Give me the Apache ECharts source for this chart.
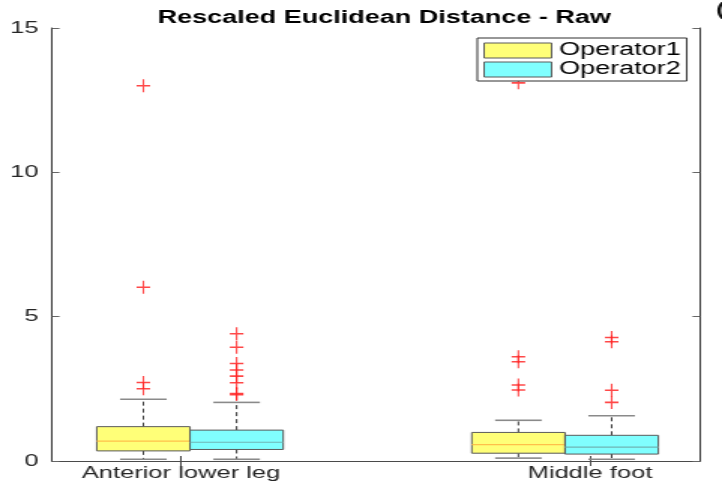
<!DOCTYPE html>
<html>
<head>
<meta charset="utf-8">
<script src="https://cdn.jsdelivr.net/npm/echarts@6/dist/echarts.min.js"></script>
<style>
  html, body { margin: 0; padding: 0; background: #fff; overflow: hidden; }
  #wrap { width: 722px; height: 488px; overflow: hidden; }
  /* reference figure is horizontally stretched ~1.5x; reproduce by scaling */
  #chart { width: 481px; height: 488px; transform: scaleX(1.501); transform-origin: 0 0; }
</style>
</head>
<body>
<div id="wrap"><div id="chart"></div></div>
<script>
// ---------------- data ----------------
const categories = ['Anterior lower leg', 'Middle foot'];
const seriesNames = ['Operator1', 'Operator2'];
// [lower whisker, Q1, median, Q3, upper whisker]
const op1Stats = [[0.06, 0.35, 0.69, 1.19, 2.14], [0.10, 0.27, 0.57, 0.99, 1.41]];
const op2Stats = [[0.06, 0.40, 0.65, 1.07, 2.03], [0.06, 0.24, 0.48, 0.89, 1.57]];
const op1Outliers = [[2.50, 2.72, 6.02, 13.0], [2.46, 2.63, 3.44, 3.61, 13.1]];
const op2Outliers = [[2.30, 2.34, 2.71, 2.94, 3.15, 3.38, 3.94, 4.41], [2.03, 2.45, 4.13, 4.28]];
const yTicks = [0, 5, 10, 15];
const titleText = 'Rescaled Euclidean Distance - Raw';

// ---------------- layout (axis units) ----------------
const tickPos = [1, 2];
const groupCenter = [1.022, 1.939];
const boxW = 0.228;
const xMin = 0.6846, xMax = 2.269;
const seriesColors = ['#ffff78', '#80ffff'];
const medianColors = ['#ffbf4a', '#6fb5b5'];

const statsList = [op1Stats, op2Stats];
const outList = [op1Outliers, op2Outliers];
const offs = [-boxW / 2, boxW / 2];

function boxData(s) {
  return statsList[s].map((st, g) => [groupCenter[g] + offs[s]].concat(st));
}
function outData(s) {
  const arr = [];
  outList[s].forEach((vals, g) => vals.forEach(v => arr.push([groupCenter[g] + offs[s], v])));
  return arr;
}

function makeRender(s) {
  return function (params, api) {
    const x = api.value(0);
    const lo = api.coord([x, api.value(1)]);
    const q1 = api.coord([x, api.value(2)]);
    const md = api.coord([x, api.value(3)]);
    const q3 = api.coord([x, api.value(4)]);
    const hi = api.coord([x, api.value(5)]);
    const w = api.size([boxW, 0])[0];
    const cx = lo[0];
    const cap = w / 4;
    return {
      type: 'group',
      children: [
        { type: 'line', shape: { x1: cx, y1: q3[1], x2: cx, y2: hi[1] },
          style: { stroke: '#3c3c3c', lineWidth: 1, lineDash: [4, 3] } },
        { type: 'line', shape: { x1: cx, y1: q1[1], x2: cx, y2: lo[1] },
          style: { stroke: '#3c3c3c', lineWidth: 1, lineDash: [4, 3] } },
        { type: 'line', shape: { x1: cx - cap, y1: hi[1], x2: cx + cap, y2: hi[1] },
          style: { stroke: '#8a8a8a', lineWidth: 1.6 } },
        { type: 'line', shape: { x1: cx - cap, y1: lo[1], x2: cx + cap, y2: lo[1] },
          style: { stroke: '#8a8a8a', lineWidth: 1.6 } },
        { type: 'rect', shape: { x: cx - w / 2, y: q3[1], width: w, height: q1[1] - q3[1] },
          style: { fill: seriesColors[s], stroke: '#5a5a5a', lineWidth: 1 } },
        { type: 'line', shape: { x1: cx - w / 2, y1: md[1], x2: cx + w / 2, y2: md[1] },
          style: { stroke: medianColors[s], lineWidth: 1.2 } }
      ]
    };
  };
}

const crossPath = 'path://M0,4.4h10v1.2h-10z M4.4,0h1.2v10h-1.2z';
const font = 'Liberation Sans, Arial, Helvetica, sans-serif';

const series = [];
[0, 1].forEach(s => {
  series.push({
    name: seriesNames[s], type: 'custom', renderItem: makeRender(s),
    data: boxData(s), itemStyle: { color: seriesColors[s] }, z: 2,
    encode: { x: 0, y: [1, 2, 3, 4, 5] }
  });
  series.push({
    name: seriesNames[s] + ' outliers', type: 'scatter', data: outData(s),
    symbol: crossPath, symbolSize: [9, 13], itemStyle: { color: '#ff1a1a' }, z: 3
  });
});

const chart = echarts.init(document.getElementById('chart'), null, { renderer: 'canvas' });
chart.setOption({
  animation: false,
  backgroundColor: '#fff',
  title: {
    text: titleText, left: 251, top: 4, textAlign: 'center',
    textStyle: { fontFamily: font, fontSize: 18, fontWeight: 'bold', color: '#000' }
  },
  graphic: [{
    type: 'text', left: 477, top: 1,
    style: { text: '(c)', font: 'bold 18px ' + font, fill: '#111' }
  }],
  legend: {
    orient: 'vertical', left: 318, top: 38,
    padding: [3, 4, 2, 4], itemGap: 0, itemWidth: 45, itemHeight: 15,
    backgroundColor: '#fff', borderColor: '#303030', borderWidth: 1,
    textStyle: { fontFamily: font, fontSize: 18, color: '#000', lineHeight: 19 },
    data: [
      { name: seriesNames[0], icon: 'rect', itemStyle: { color: seriesColors[0], borderColor: '#5a5a5a', borderWidth: 1 } },
      { name: seriesNames[1], icon: 'rect', itemStyle: { color: seriesColors[1], borderColor: '#5a5a5a', borderWidth: 1 } }
    ],
    z: 10
  },
  grid: { left: 34.64, right: 14.66, top: 28, bottom: 27, containLabel: false },
  xAxis: [{
    type: 'value', position: 'bottom', min: xMin, max: xMax,
    axisLine: { show: true, lineStyle: { color: '#4a4a4a', width: 1 } },
    axisTick: { show: true, inside: true, length: 5, customValues: tickPos, lineStyle: { color: '#4a4a4a' } },
    axisLabel: { show: true, customValues: tickPos, margin: 4,
      formatter: v => categories[Math.round(v) - 1] || '',
      fontFamily: font, fontSize: 17, color: '#262626' },
    splitLine: { show: false }
  }, {
    type: 'value', position: 'top', min: xMin, max: xMax,
    axisLine: { show: true, lineStyle: { color: '#4a4a4a', width: 1 } },
    axisTick: { show: true, inside: true, length: 5, customValues: tickPos, lineStyle: { color: '#4a4a4a' } },
    axisLabel: { show: false }, splitLine: { show: false }
  }],
  yAxis: [{
    type: 'value', min: yTicks[0], max: yTicks[yTicks.length - 1], interval: 5,
    axisLine: { show: true, lineStyle: { color: '#333', width: 1 } },
    axisTick: { show: true, inside: true, length: 5, lineStyle: { color: '#666' } },
    axisLabel: { margin: 9, fontFamily: font, fontSize: 17, color: '#262626' },
    splitLine: { show: false }
  }, {
    type: 'value', position: 'right', min: yTicks[0], max: yTicks[yTicks.length - 1], interval: 5,
    axisLine: { show: true, lineStyle: { color: '#333', width: 1 } },
    axisTick: { show: true, inside: true, length: 5, lineStyle: { color: '#666' } },
    axisLabel: { show: false }, splitLine: { show: false }
  }],
  series: series
});
</script>
</body>
</html>
